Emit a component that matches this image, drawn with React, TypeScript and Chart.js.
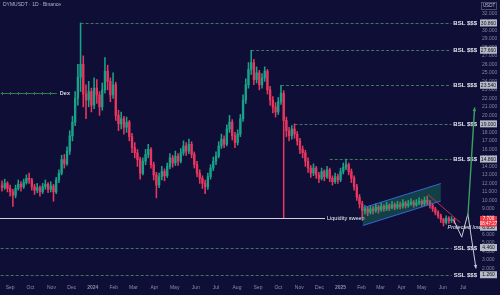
import { useEffect, useRef } from "react";
import { Chart, registerables } from "chart.js";

Chart.register(...registerables);

const FONT = "'Liberation Sans', Arial, sans-serif";
const TITLE = "DYMUSDT · 1D · Binance";

// 4-day candles starting 18 Aug 2023 (day 0)
const CANDLE_SPAN_DAYS = 4;
const FIRST_OPEN = 11.8;
const closes = [
  11.5, 12.0, 11.4, 11.0, 10.6, 11.4, 11.9, 11.6, 12.1, 12.6,
  12.4, 11.6, 11.2, 11.5, 11.0, 11.6, 11.9, 11.3, 11.7, 11.0,
  12.4, 13.2, 14.8, 14.3, 15.8, 17.6, 19.2, 22.0, 24.5, 26.0,
  22.5, 21.8, 22.8, 21.2, 23.2, 22.4, 21.0, 23.0, 25.2, 24.0,
  22.4, 23.6, 20.0, 19.0, 19.6, 18.6, 19.2, 17.5, 16.2, 15.6,
  14.8, 13.2, 14.6, 15.4, 16.0, 14.2, 13.0, 11.8, 12.8, 13.4,
  12.9, 14.0, 15.0, 14.4, 15.2, 14.6, 15.6, 16.4, 15.8, 16.6,
  15.4, 14.2, 13.2, 12.6, 12.0, 11.6, 12.8, 13.8, 14.6, 15.2,
  16.4, 17.2, 16.6, 18.4, 19.2, 17.6, 16.8, 17.8, 19.6, 21.8,
  23.6, 25.4, 26.2, 24.2, 25.0, 23.6, 24.4, 25.2, 23.0, 21.8,
  21.0, 20.4, 21.6, 22.6, 19.4, 18.2, 17.6, 18.4, 17.8, 17.0,
  16.0, 15.6, 14.6, 13.8, 13.2, 13.8, 13.0, 12.6, 13.4, 12.8,
  13.6, 12.6, 12.2, 12.8, 12.4, 13.4, 13.9, 14.2, 13.4, 12.6,
  11.6, 10.4, 9.6, 8.8, 9.0, 8.6, 9.0, 8.8, 9.2, 8.9,
  9.3, 9.0, 9.4, 9.1, 9.5, 9.2, 9.5, 9.3, 9.7, 9.4,
  9.6, 9.8, 9.5, 9.7, 9.9, 9.6, 10.0, 9.8, 9.4, 9.0,
  8.6, 8.2, 7.8, 7.4, 7.9, 7.6, 7.8, 7.7,
];
const highs = [
  12.3, 12.5, 12.2, 11.8, 11.3, 11.8, 12.4, 12.2, 12.5, 13.0,
  13.2, 12.6, 11.9, 12.0, 11.7, 12.0, 12.4, 12.1, 12.2, 11.9,
  12.7, 13.6, 15.3, 15.4, 16.3, 18.2, 19.9, 22.8, 26.0, 30.86,
  27.0, 23.6, 24.0, 23.2, 24.4, 24.2, 22.8, 23.8, 26.8, 25.9,
  24.4, 25.0, 23.9, 20.6, 20.4, 19.9, 19.8, 19.4, 17.9, 16.8,
  16.0, 15.1, 15.0, 16.0, 16.6, 16.2, 14.5, 13.3, 13.2, 14.0,
  13.7, 14.4, 15.5, 15.3, 15.8, 15.5, 16.1, 17.0, 16.8, 17.2,
  16.9, 15.7, 14.6, 13.6, 12.9, 12.4, 13.2, 14.2, 15.1, 15.7,
  16.9, 17.8, 17.6, 18.9, 20.0, 19.5, 18.0, 18.3, 20.1, 22.4,
  24.3, 26.2, 27.66, 26.6, 25.7, 25.3, 24.9, 25.7, 25.4, 23.4,
  22.2, 21.5, 22.1, 23.54, 22.9, 19.8, 18.6, 18.8, 19.0, 18.1,
  17.3, 16.4, 15.9, 15.0, 14.1, 14.3, 14.0, 13.3, 13.8, 13.6,
  14.0, 13.8, 12.9, 13.2, 13.1, 13.8, 14.4, 14.86, 14.4, 13.7,
  12.9, 11.9, 10.7, 9.9, 9.4, 9.2, 9.4, 9.3, 9.6, 9.4,
  9.7, 9.5, 9.8, 9.6, 9.9, 9.7, 9.9, 9.8, 10.1, 9.9,
  10.0, 10.2, 10.0, 10.1, 10.3, 10.1, 10.4, 10.5, 10.0, 9.6,
  9.2, 8.8, 8.4, 7.9, 8.2, 8.1, 8.1, 7.9,
];
const lows = [
  11.1, 11.3, 11.0, 10.5, 9.3, 10.3, 11.2, 11.1, 11.4, 11.9,
  12.0, 11.2, 10.7, 10.9, 10.5, 10.8, 11.3, 10.9, 11.0, 9.9,
  10.8, 12.1, 13.0, 13.8, 14.1, 15.4, 17.0, 18.8, 21.2, 22.8,
  21.0, 19.6, 21.0, 20.4, 20.8, 21.4, 20.0, 20.6, 22.6, 23.0,
  21.6, 22.0, 19.4, 18.2, 18.4, 17.8, 18.0, 17.0, 15.6, 15.0,
  14.0, 12.5, 13.0, 14.2, 15.0, 13.8, 12.4, 10.3, 11.5, 12.4,
  12.3, 12.7, 13.7, 13.9, 14.1, 14.1, 14.4, 15.3, 15.3, 15.5,
  15.0, 13.8, 12.8, 12.0, 11.4, 10.8, 11.3, 12.5, 13.5, 14.2,
  15.0, 16.1, 16.2, 16.4, 18.0, 17.1, 16.2, 16.5, 17.5, 19.3,
  21.4, 23.2, 24.8, 23.6, 23.8, 23.0, 23.2, 24.0, 22.5, 21.2,
  20.3, 19.8, 20.1, 21.3, 7.89, 17.5, 17.0, 17.2, 17.3, 16.5,
  15.5, 15.0, 14.0, 13.3, 12.7, 12.9, 12.6, 12.1, 12.4, 12.3,
  12.6, 12.2, 11.8, 12.0, 12.0, 12.2, 13.1, 13.6, 13.0, 12.1,
  11.2, 10.0, 9.1, 8.0, 8.4, 8.2, 8.4, 8.4, 8.6, 8.5,
  8.7, 8.7, 8.8, 8.8, 9.0, 8.9, 9.0, 9.0, 9.1, 9.1,
  9.2, 9.4, 9.2, 9.3, 9.5, 9.3, 9.4, 9.5, 9.1, 8.7,
  8.3, 7.9, 7.4, 7.0, 7.2, 7.3, 7.4, 7.3,
];

const monthTickDays = [14, 44, 75, 105, 136, 167, 196, 227, 257, 288, 318, 349, 380, 410, 441, 471, 502, 533, 561, 592, 622, 653, 683];
const monthTickLabels = ["Sep", "Oct", "Nov", "Dec", "2024", "Feb", "Mar", "Apr", "May", "Jun", "Jul", "Aug", "Sep", "Oct", "Nov", "Dec", "2025", "Feb", "Mar", "Apr", "May", "Jun", "Jul"];
const priceTickValues = [1, 2, 3, 4, 5, 6, 7, 8, 9, 10, 11, 12, 13, 14, 15, 16, 17, 18, 19, 20, 21, 22, 23, 24, 25, 26, 27, 28, 29, 30, 31, 32];

const levelValues = [30.86, 27.66, 23.54, 19.0, 14.86, 4.46, 1.26];
const levelStartDays = [118, 370, 414, 434, 486, 0, 0];
const levelLabels = ["BSL $$$", "BSL $$$", "BSL $$$", "BSL $$$", "BSL $$$", "SSL $$$", "SSL $$$"];

const sweepValue = 7.89;
const sweepEndDay = 479;
const sweepLabel = "Liquidity sweep";
const dexValue = 22.65;
const dexEndDay = 83;
const dexLabel = "Dex";
const channelUpper = [[535, 9.12], [650, 11.98]];
const channelLower = [[535, 7.05], [650, 9.92]];
const trendLine = [[631, 10.7], [679, 7.4]];
const bearPath = [[669, 7.7], [681, 5.68], [690, 8.43], [702, 2.0]];
const bullPath = [[690, 8.08], [700, 20.93]];
const protectedLowValue = 6.85;
const protectedLowDay = 660;
const protectedLowLabel = "Protected low";
const lastPrice = 7.7;
const countdown = "08:47:27";

const UP = "#19a287";
const DOWN = "#e8375e";
const BG = "#0e0e37";

export default function App() {
  const ref = useRef<HTMLCanvasElement | null>(null);

  useEffect(() => {
    const canvas = ref.current;
    if (!canvas) return;
    const opens = closes.map((c, i) => (i === 0 ? FIRST_OPEN : closes[i - 1]));
    const days = closes.map((_, i) => i * CANDLE_SPAN_DAYS + 2);
    const colors = closes.map((c, i) => (c >= opens[i] ? UP : DOWN));

    const arrow = (ctx: CanvasRenderingContext2D, x1: number, y1: number, x2: number, y2: number, size: number) => {
      const a = Math.atan2(y2 - y1, x2 - x1);
      ctx.beginPath();
      ctx.moveTo(x2, y2);
      ctx.lineTo(x2 - size * Math.cos(a - 0.45), y2 - size * Math.sin(a - 0.45));
      ctx.lineTo(x2 - size * Math.cos(a + 0.45), y2 - size * Math.sin(a + 0.45));
      ctx.closePath();
      ctx.fill();
    };

    const bgPlugin = {
      id: "bg",
      beforeDraw(chart: any) {
        const ctx = chart.ctx;
        ctx.save();
        ctx.fillStyle = BG;
        ctx.fillRect(0, 0, chart.width, chart.height);
        ctx.restore();
      },
    };

    const overlay = {
      id: "overlay",
      beforeDatasetsDraw(chart: any) {
        const ctx: CanvasRenderingContext2D = chart.ctx;
        const X = (d: number) => chart.scales.x.getPixelForValue(d);
        const Y = (v: number) => chart.scales.y.getPixelForValue(v);
        const area = chart.chartArea;
        ctx.save();
        ctx.font = `bold 6px ${FONT}`;
        levelValues.forEach((v, i) => {
          const y = Math.round(Y(v)) + 0.5;
          const w = ctx.measureText(levelLabels[i]).width;
          const tx = area.right - 1 - w;
          ctx.strokeStyle = "rgba(70,150,95,0.8)";
          ctx.lineWidth = 1;
          ctx.setLineDash([3, 2]);
          ctx.beginPath();
          ctx.moveTo(X(levelStartDays[i]), y);
          ctx.lineTo(tx - 2, y);
          ctx.stroke();
          ctx.setLineDash([]);
          ctx.fillStyle = "#e4e5ee";
          ctx.textBaseline = "middle";
          ctx.textAlign = "left";
          ctx.fillText(levelLabels[i], tx, y);
        });
        const dy = Math.round(Y(dexValue)) + 0.5;
        ctx.strokeStyle = "#2f7d4a";
        ctx.beginPath();
        ctx.moveTo(X(0), dy);
        ctx.lineTo(X(dexEndDay), dy);
        for (let x = X(0) + 1; x < X(dexEndDay); x += 8) {
          ctx.moveTo(Math.round(x) + 0.5, dy - 1.5);
          ctx.lineTo(Math.round(x) + 0.5, dy + 1.5);
        }
        ctx.stroke();
        ctx.fillStyle = "#d8d8e0";
        ctx.font = `bold 5.5px ${FONT}`;
        ctx.textBaseline = "middle";
        ctx.fillText(dexLabel, X(dexEndDay) + 3, dy);
        ctx.restore();
      },
      afterDatasetsDraw(chart: any) {
        const ctx: CanvasRenderingContext2D = chart.ctx;
        const X = (d: number) => chart.scales.x.getPixelForValue(d);
        const Y = (v: number) => chart.scales.y.getPixelForValue(v);
        const area = chart.chartArea;
        ctx.save();
        const sy = Math.round(Y(sweepValue)) + 0.5;
        ctx.strokeStyle = "#cfd2dc";
        ctx.lineWidth = 1;
        ctx.beginPath();
        ctx.moveTo(area.left, sy);
        ctx.lineTo(X(sweepEndDay), sy);
        ctx.stroke();
        ctx.fillStyle = "#f0f0f5";
        ctx.font = `5.5px ${FONT}`;
        ctx.textBaseline = "middle";
        ctx.textAlign = "left";
        ctx.fillText(sweepLabel, X(sweepEndDay) + 2, sy);
        ctx.fillStyle = "rgba(30,170,105,0.32)";
        ctx.beginPath();
        ctx.moveTo(X(channelUpper[0][0]), Y(channelUpper[0][1]));
        ctx.lineTo(X(channelUpper[1][0]), Y(channelUpper[1][1]));
        ctx.lineTo(X(channelLower[1][0]), Y(channelLower[1][1]));
        ctx.lineTo(X(channelLower[0][0]), Y(channelLower[0][1]));
        ctx.closePath();
        ctx.fill();
        ctx.strokeStyle = "#3566d6";
        [channelUpper, channelLower].forEach((ln) => {
          ctx.beginPath();
          ctx.moveTo(X(ln[0][0]), Y(ln[0][1]));
          ctx.lineTo(X(ln[1][0]), Y(ln[1][1]));
          ctx.stroke();
        });
        ctx.strokeStyle = "#b3334f";
        ctx.beginPath();
        ctx.moveTo(X(trendLine[0][0]), Y(trendLine[0][1]));
        ctx.lineTo(X(trendLine[1][0]), Y(trendLine[1][1]));
        ctx.stroke();
        const drawPath = (pts: number[][], color: string, w: number) => {
          ctx.strokeStyle = color;
          ctx.fillStyle = color;
          ctx.lineWidth = w;
          ctx.beginPath();
          pts.forEach((p, i) => (i === 0 ? ctx.moveTo(X(p[0]), Y(p[1])) : ctx.lineTo(X(p[0]), Y(p[1]))));
          ctx.stroke();
          const a = pts[pts.length - 2];
          const b = pts[pts.length - 1];
          arrow(ctx, X(a[0]), Y(a[1]), X(b[0]), Y(b[1]), 4);
        };
        drawPath(bearPath, "#c9cbd6", 1);
        drawPath(bullPath, "#3c9f62", 1.4);
        ctx.fillStyle = "#f0f0f5";
        ctx.font = `italic 5.5px ${FONT}`;
        ctx.textBaseline = "middle";
        ctx.textAlign = "left";
        ctx.fillText(protectedLowLabel, X(protectedLowDay), Y(protectedLowValue));
        ctx.fillStyle = "#b3b6c8";
        ctx.font = `5px ${FONT}`;
        ctx.textBaseline = "middle";
        ctx.fillText(TITLE, 3, 5);
        ctx.restore();
      },
      afterDraw(chart: any) {
        const ctx: CanvasRenderingContext2D = chart.ctx;
        const Y = (v: number) => chart.scales.y.getPixelForValue(v);
        const area = chart.chartArea;
        const bx = area.right + 2;
        const bw = chart.width - bx - 3;
        ctx.save();
        ctx.textAlign = "center";
        ctx.textBaseline = "middle";
        ctx.font = `5px ${FONT}`;
        const grayBox = (v: number) => {
          const y = Y(v);
          ctx.fillStyle = "#b6b9c6";
          ctx.fillRect(bx, y - 3.5, bw, 7);
          ctx.fillStyle = "#131722";
          ctx.fillText(v.toFixed(3), bx + bw / 2, y + 0.3);
        };
        levelValues.forEach(grayBox);
        grayBox(protectedLowValue);
        const py = Y(lastPrice);
        ctx.fillStyle = "#f23645";
        ctx.fillRect(bx, py - 4, bw, 10.5);
        ctx.fillStyle = "#ffffff";
        ctx.font = `4.5px ${FONT}`;
        ctx.fillText(lastPrice.toFixed(3), bx + bw / 2, py - 1);
        ctx.fillText(countdown, bx + bw / 2, py + 3.5);
        ctx.fillStyle = BG;
        ctx.fillRect(bx + 1, 2, bw - 1, 8);
        ctx.strokeStyle = "#5a5e78";
        ctx.lineWidth = 0.8;
        ctx.strokeRect(bx + 1.5, 2.5, bw - 2, 7);
        ctx.fillStyle = "#c3c5d3";
        ctx.fillText("USDT", bx + bw / 2 + 0.5, 6.2);
        ctx.restore();
      },
    };

    const chart = new Chart(canvas, {
      type: "bar",
      data: {
        datasets: [
          {
            data: days.map((d, i) => ({ x: d, y: [lows[i], highs[i]] })) as any,
            backgroundColor: colors,
            barThickness: 0.9,
            grouped: false,
            order: 2,
          } as any,
          {
            data: days.map((d, i) => ({ x: d, y: [opens[i], closes[i]] })) as any,
            backgroundColor: colors,
            barThickness: 1.7,
            minBarLength: 1,
            grouped: false,
            order: 1,
          } as any,
        ],
      },
      options: {
        animation: false,
        responsive: false,
        events: [],
        layout: { padding: 0 },
        plugins: { legend: { display: false }, tooltip: { enabled: false } },
        scales: {
          x: {
            type: "linear",
            min: -1,
            max: 705,
            offset: false,
            grid: { display: false, drawTicks: false },
            border: { display: false },
            afterBuildTicks: (s: any) => {
              s.ticks = monthTickDays.map((v) => ({ value: v }));
            },
            afterFit: (s: any) => {
              s.height = 12;
            },
            ticks: {
              autoSkip: false,
              maxRotation: 0,
              padding: 2,
              color: "#8b8ea3",
              font: (c: any) => ({
                size: 5,
                family: FONT,
                weight: /^\d{4}$/.test(monthTickLabels[c.index] || "") ? "bold" : "normal",
              }),
              callback: (v: any) => {
                const k = monthTickDays.indexOf(Number(v));
                return k >= 0 ? monthTickLabels[k] : "";
              },
            },
          } as any,
          y: {
            type: "linear",
            position: "right",
            min: 0.29,
            max: 32.74,
            grid: { display: false, drawTicks: false },
            border: { display: false },
            afterBuildTicks: (s: any) => {
              s.ticks = priceTickValues.map((v) => ({ value: v }));
            },
            afterFit: (s: any) => {
              s.width = 22;
            },
            ticks: {
              autoSkip: false,
              padding: 4,
              color: "#84879c",
              font: { size: 5, family: FONT },
              callback: (v: any) => Number(v).toFixed(3),
            },
          } as any,
        },
      },
      plugins: [bgPlugin, overlay],
    });
    return () => chart.destroy();
  }, []);

  return (
    <div style={{ position: "fixed", left: 0, top: 0, width: 500, height: 295, background: BG }}>
      <canvas ref={ref} width={500} height={295} style={{ display: "block" }} />
    </div>
  );
}
